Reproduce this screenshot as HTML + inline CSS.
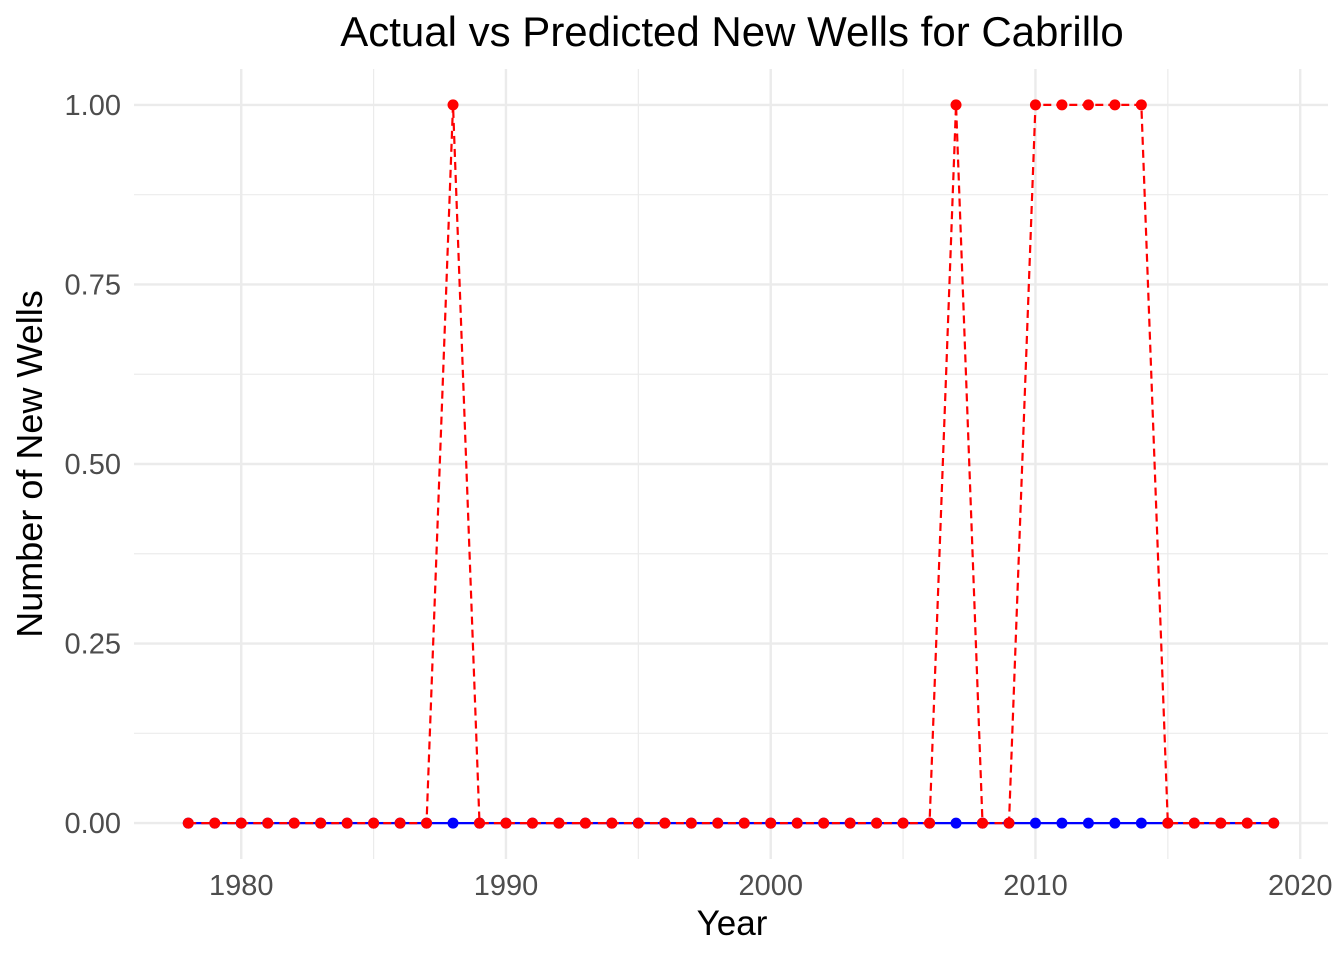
<!DOCTYPE html>
<html><head><meta charset="utf-8"><style>
html,body{margin:0;padding:0;background:#fff;}
svg{display:block;font-family:"Liberation Sans",Arial,sans-serif;}
</style></head><body>
<svg id="chart" width="1344" height="960" viewBox="0 0 1344 960" xmlns="http://www.w3.org/2000/svg">
<g id="grid"></g>
<g id="series"></g>
<g id="axes"></g>
<text x="732" y="46" text-anchor="middle" font-size="42" fill="#000">Actual vs Predicted New Wells for Cabrillo</text>
<text x="732" y="935" text-anchor="middle" font-size="35" fill="#000">Year</text>
<text transform="translate(42,464) rotate(-90)" text-anchor="middle" font-size="36" fill="#000">Number of New Wells</text>
</svg>
<script>
const years = [1978,1979,1980,1981,1982,1983,1984,1985,1986,1987,1988,1989,1990,1991,1992,1993,1994,1995,1996,1997,1998,1999,2000,2001,2002,2003,2004,2005,2006,2007,2008,2009,2010,2011,2012,2013,2014,2015,2016,2017,2018,2019];
const actual = [0,0,0,0,0,0,0,0,0,0,0,0,0,0,0,0,0,0,0,0,0,0,0,0,0,0,0,0,0,0,0,0,0,0,0,0,0,0,0,0,0,0];
const predicted = [0,0,0,0,0,0,0,0,0,0,1,0,0,0,0,0,0,0,0,0,0,0,0,0,0,0,0,0,0,1,0,0,1,1,1,1,1,0,0,0,0,0];
const xTicks = [1980,1990,2000,2010,2020];
const xMinor = [1985,1995,2005,2015];
const yTicks = [0,0.25,0.5,0.75,1];
const yTickLabels = ["0.00","0.25","0.50","0.75","1.00"];
const yMinor = [0.125,0.375,0.625,0.875];

const NS="http://www.w3.org/2000/svg";
const xmin=Math.min(...years), xmax=Math.max(...years);
const allY=actual.concat(predicted);
const ymin=Math.min(...allY), ymax=Math.max(...allY);
const L=134,R=1328,T=69,B=859;
const xs=v=>{const pad=(xmax-xmin)*0.05;return L+(v-(xmin-pad))/((xmax-xmin)+2*pad)*(R-L);};
const yr=(ymax-ymin)||1;
const ys=v=>{const pad=yr*0.05;return B-(v-(ymin-pad))/(yr+2*pad)*(B-T);};
function mk(tag,attrs,parent){const e=document.createElementNS(NS,tag);for(const k in attrs)e.setAttribute(k,attrs[k]);parent.appendChild(e);return e;}
const grid=document.getElementById('grid'),series=document.getElementById('series'),axes=document.getElementById('axes');
xMinor.forEach(v=>{const l=mk('line',{x1:xs(v),x2:xs(v),y1:T,y2:B,stroke:'#ebebeb','stroke-width':1.2},grid);

});
yMinor.forEach(v=>{const l=mk('line',{x1:L,x2:R,y1:ys(v),y2:ys(v),stroke:'#ebebeb','stroke-width':1.2},grid);

});
xTicks.forEach(v=>{const l=mk('line',{x1:xs(v),x2:xs(v),y1:T,y2:B,stroke:'#ebebeb','stroke-width':2.4},grid);


const t=mk('text',{x:xs(v),y:895,'text-anchor':'middle','font-size':29,fill:'#4d4d4d'},axes);t.textContent=v;

});
yTicks.forEach((v,i)=>{const l=mk('line',{x1:L,x2:R,y1:ys(v),y2:ys(v),stroke:'#ebebeb','stroke-width':2.4},grid);


const t=mk('text',{x:121,y:ys(v)+10,'text-anchor':'end','font-size':29,fill:'#4d4d4d'},axes);t.textContent=yTickLabels[i];

});
function drawSeries(vals,color,dash,name){
 const pts=years.map((y,i)=>xs(y)+','+ys(vals[i])).join(' ');
 const pl=mk('polyline',{points:pts,fill:'none',stroke:color,'stroke-width':2.2},series);
 if(dash)pl.setAttribute('stroke-dasharray',dash);
 
 
 years.forEach((y,i)=>{const c=mk('circle',{cx:xs(y),cy:ys(vals[i]),r:5.5,fill:color},series);
 
 });
}
drawSeries(actual,'#0000ff',null,'actual');
drawSeries(predicted,'#ff0000','8,5','predicted');
</script>
</body></html>
